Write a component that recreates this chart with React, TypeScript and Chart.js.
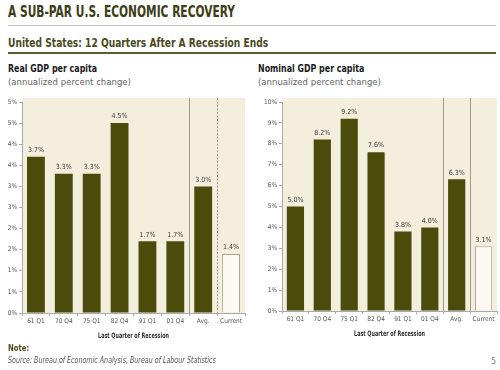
import React, { useEffect, useRef } from "react";
import { Chart, registerables } from "chart.js";

Chart.register(...registerables);

const categories = ["61 Q1", "70 Q4", "75 Q1", "82 Q4", "91 Q1", "01 Q4", "Avg.", "Current"];
const realValues = [3.7, 3.3, 3.3, 4.5, 1.7, 1.7, 3.0, 1.4];
const nominalValues = [5.0, 8.2, 9.2, 7.6, 3.8, 4.0, 6.3, 3.1];
const axisTitle = "Last Quarter of Recession";

const FONT = '"Liberation Sans Narrow", "DejaVu Sans Condensed", "Liberation Sans", sans-serif';
const OLIVE = "#4b4b0c";
const CURRENT_FILL = "#fbf9f1";
const CURRENT_BORDER = "#aaa493";
const BEIGE = "#f4efdd";
const SEP = "#9d998c";

type Props = {
  values: number[];
  max: number;
  step: number;
  yWidth: number;
  padRight: number;
  xHeight: number;
  dashedLast: boolean;
  left: number;
};

function BarPanel({ values, max, step, yWidth, padRight, xHeight, dashedLast, left }: Props) {
  const ref = useRef<HTMLCanvasElement | null>(null);
  useEffect(() => {
    if (!ref.current) return;
    const bg = {
      id: "bg",
      beforeDraw(chart: any) {
        const { ctx, chartArea } = chart;
        ctx.save();
        ctx.fillStyle = BEIGE;
        ctx.fillRect(chartArea.left, chartArea.top - 4, chartArea.right - chartArea.left, chartArea.bottom - chartArea.top + 4);
        ctx.restore();
      },
    };
    const seps = {
      id: "seps",
      beforeDatasetsDraw(chart: any) {
        const { ctx, chartArea } = chart;
        const xs = chart.scales.x;
        const b1 = (xs.getPixelForValue(5) + xs.getPixelForValue(6)) / 2;
        const b2 = (xs.getPixelForValue(6) + xs.getPixelForValue(7)) / 2;
        ctx.save();
        ctx.strokeStyle = SEP;
        ctx.lineWidth = 1;
        ctx.beginPath();
        ctx.moveTo(Math.round(b1) + 0.5, chartArea.top - 4);
        ctx.lineTo(Math.round(b1) + 0.5, chartArea.bottom);
        ctx.stroke();
        if (dashedLast) ctx.setLineDash([2, 1.5]);
        ctx.beginPath();
        ctx.moveTo(Math.round(b2) + 0.5, chartArea.top - 4);
        ctx.lineTo(Math.round(b2) + 0.5, chartArea.bottom);
        ctx.stroke();
        ctx.restore();
      },
    };
    const labels = {
      id: "vlabels",
      afterDatasetsDraw(chart: any) {
        const { ctx } = chart;
        const meta = chart.getDatasetMeta(0);
        ctx.save();
        ctx.fillStyle = "#3a3a3a";
        ctx.font = `7px ${FONT}`;
        ctx.textAlign = "center";
        ctx.textBaseline = "bottom";
        meta.data.forEach((el: any, i: number) => {
          ctx.fillText(values[i].toFixed(1) + "%", el.x, el.y - 3);
        });
        ctx.restore();
      },
    };
    const xTitle = {
      id: "xtitle",
      afterDraw(chart: any) {
        const { ctx, chartArea } = chart;
        const cx = (chartArea.left + chartArea.right) / 2;
        ctx.save();
        ctx.translate(cx, chartArea.bottom + 23.5);
        ctx.scale(0.72, 1);
        ctx.fillStyle = "#2e2e2e";
        ctx.font = `bold 7.5px ${FONT}`;
        ctx.textAlign = "center";
        ctx.textBaseline = "middle";
        ctx.fillText(axisTitle, 0, 0);
        ctx.restore();
      },
    };
    const chart = new Chart(ref.current, {
      type: "bar",
      data: {
        labels: categories,
        datasets: [
          {
            data: values,
            backgroundColor: values.map((_, i) => (i === values.length - 1 ? CURRENT_FILL : OLIVE)),
            borderColor: values.map((_, i) => (i === values.length - 1 ? CURRENT_BORDER : OLIVE)),
            borderWidth: values.map((_, i) => (i === values.length - 1 ? 1 : 0)),
            categoryPercentage: 1,
            barPercentage: 0.64,
          },
        ],
      },
      options: {
        animation: false,
        responsive: false,
        maintainAspectRatio: false,
        layout: { padding: { top: 10, right: padRight, left: 0, bottom: 0 } },
        plugins: { legend: { display: false }, tooltip: { enabled: false } },
        scales: {
          x: {
            type: "category",
            grid: { display: true, drawOnChartArea: false, offset: true, tickLength: 3, color: "#aaa" },
            border: { color: "#aaa" },
            ticks: { font: { size: 6.5, family: FONT }, color: "#555", padding: 1, maxRotation: 0, autoSkip: false },
            afterFit: (s: any) => {
              s.height = xHeight;
            },
          },
          y: {
            min: 0,
            max,
            ticks: {
              stepSize: step,
              font: { size: 6.5, family: FONT },
              color: "#555",
              padding: 2,
              callback: (v: any) => Math.round(Number(v)) + "%",
            },
            grid: { drawOnChartArea: false, tickLength: 3, color: "#aaa" },
            border: { color: "#aaa" },
            afterFit: (s: any) => {
              s.width = yWidth;
            },
          },
        },
      },
      plugins: [bg, seps, labels, xTitle],
    } as any);
    return () => chart.destroy();
  }, []);
  return (
    <canvas
      ref={ref}
      width={250}
      height={254}
      style={{ position: "absolute", left, top: 92, width: 250, height: 254 }}
    />
  );
}

export default function App() {
  const abs = (o: React.CSSProperties, sx = 1): React.CSSProperties => ({
    position: "absolute",
    margin: 0,
    lineHeight: 1,
    whiteSpace: "nowrap",
    fontFamily: FONT,
    transform: `scaleX(${sx})`,
    transformOrigin: "left center",
    ...o,
  });
  return (
    <div
      style={{
        position: "fixed",
        left: 0,
        top: 0,
        width: 500,
        height: 370,
        background: "#ffffff",
        overflow: "hidden",
        fontFamily: FONT,
      }}
    >
      <div style={abs({ left: 8, top: 5, fontSize: 15, fontWeight: "bold", color: "#3d3d16" }, 0.79)}>
        A SUB-PAR U.S. ECONOMIC RECOVERY
      </div>
      <div style={{ position: "absolute", left: 8, top: 25, width: 488, height: 1, background: "#c4c2bb" }} />
      <div style={abs({ left: 8, top: 37, fontSize: 12.5, fontWeight: "bold", color: "#4a4a1c" }, 0.81)}>
        United States: 12 Quarters After A Recession Ends
      </div>
      <div style={{ position: "absolute", left: 8, top: 52, width: 488, height: 2, background: "#5b5b33" }} />

      <div style={abs({ left: 8, top: 63, fontSize: 11, fontWeight: "bold", color: "#1a1a1a" }, 0.8)}>Real GDP per capita</div>
      <div style={abs({ left: 8, top: 77, fontSize: 9.5, color: "#666" })}>(annualized percent change)</div>
      <div style={abs({ left: 258, top: 63, fontSize: 11, fontWeight: "bold", color: "#1a1a1a" }, 0.8)}>Nominal GDP per capita</div>
      <div style={abs({ left: 258, top: 77, fontSize: 9.5, color: "#666" })}>(annualized percent change)</div>

      <BarPanel values={realValues} max={5} step={0.5} yWidth={22} padRight={5} xHeight={33} dashedLast={true} left={0} />
      <BarPanel values={nominalValues} max={10} step={1} yWidth={32} padRight={3} xHeight={35} dashedLast={false} left={250} />

      <div style={abs({ left: 8, top: 344, fontSize: 9, fontWeight: "bold", color: "#4a4a1c" }, 0.85)}>Note:</div>
      <div style={abs({ left: 8, top: 356, fontSize: 8.5, fontStyle: "italic", color: "#555" }, 0.83)}>
        Source: Bureau of Economic Analysis, Bureau of Labour Statistics
      </div>
      <div style={abs({ left: 491, top: 357, fontSize: 9, color: "#777" })}>5</div>
    </div>
  );
}
